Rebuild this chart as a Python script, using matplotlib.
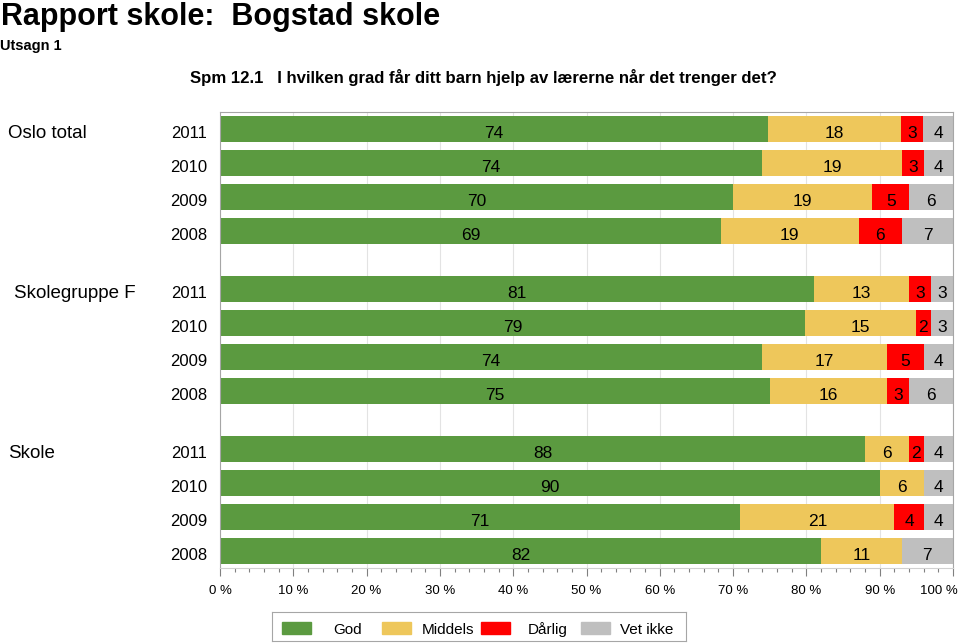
import numpy as np
import matplotlib
matplotlib.use("Agg")
import matplotlib.pyplot as plt
from matplotlib.patches import Rectangle
from matplotlib.transforms import blended_transform_factory, ScaledTranslation
from matplotlib.ticker import MultipleLocator

plt.rcParams['font.family'] = ['Liberation Sans', 'DejaVu Sans']

# data
groups = ["Oslo total", "Skolegruppe F", "Skole"]
years = ["2011", "2010", "2009", "2008"]
categories = ["God", "Middels", "Dårlig", "Vet ikke"]
colors = ["#5B9A40", "#EEC75B", "#FF0000", "#BFBFBF"]

god      = [74, 74, 70, 69,  81, 79, 74, 75,  88, 90, 71, 82]
middels  = [18, 19, 19, 19,  13, 15, 17, 16,   6,  6, 21, 11]
darlig   = [ 3,  3,  5,  6,   3,  2,  5,  3,   2,  0,  4,  0]
vet_ikke = [ 4,  4,  6,  7,   3,  3,  4,  6,   4,  4,  4,  7]

x_ticks = list(range(0, 101, 10))

W, H = 960, 643
fig = plt.figure(figsize=(W / 100, H / 100), dpi=100)

def fx(px):
    return px / W

def fy(py):
    return 1 - py / H

def shift(dx_pt, dy_pt):
    return ScaledTranslation(dx_pt / 72, dy_pt / 72, fig.dpi_scale_trans)

ax = fig.add_axes([fx(220), fy(568), fx(953) - fx(220), fy(112) - fy(568)])

vals = np.array([god, middels, darlig, vet_ikke], dtype=float)
pct = vals / vals.sum(axis=0) * 100

group_step = 4.706
ypos = np.array([g * group_step + i for g in range(len(groups)) for i in range(len(years))])

# text baselines sit a bit below the bar centre
base_off = -6.5  # points

left = np.zeros(len(ypos))
for k in range(len(categories)):
    ax.barh(ypos, pct[k], left=left, height=0.76, color=colors[k], zorder=2)
    for y, l, w, v in zip(ypos, left, pct[k], vals[k]):
        if v > 0:
            ax.annotate(f"{int(v)}", (l + w / 2, y), xytext=(0, base_off),
                        textcoords="offset points", ha="center", va="baseline",
                        fontsize=12.5, color="black", zorder=3)
    left += pct[k]

ax.set_xlim(0, 100)
ax.set_ylim(ypos[-1] + 0.5, -0.5)

ax.set_xticks(x_ticks)
ax.set_xticklabels([f"{t} %" for t in x_ticks])
ax.xaxis.set_minor_locator(MultipleLocator(2))
ax.tick_params(axis="x", which="major", length=6, width=0.8, color="#808080",
               labelsize=9.5, pad=6)
ax.tick_params(axis="x", which="minor", length=3, width=0.8, color="#808080")
ax.grid(axis="x", which="major", color="#E3E3E3", linewidth=0.8, zorder=0)

# keep "100 %" inside the figure like the reference
last = ax.get_xticklabels()[-1]
last.set_ha("right")
last.set_transform(last.get_transform() + shift(3.6, 0))

ax.set_yticks(ypos)
ax.set_yticklabels(years * len(groups))
ax.tick_params(axis="y", length=0, labelsize=12, pad=9)
for lab in ax.get_yticklabels():
    lab.set_va("baseline")
    lab.set_transform(lab.get_transform() + shift(0, base_off))

for s in ax.spines.values():
    s.set_color("#A6A6A6")
    s.set_linewidth(0.8)
ax.spines["bottom"].set_color("#D0D0D0")

# group labels
trans = blended_transform_factory(fig.transFigure, ax.transData)
group_x = [8, 14, 8]
for g, name in enumerate(groups):
    ax.text(fx(group_x[g]), ypos[g * len(years)], name,
            transform=trans + shift(0, base_off),
            ha="left", va="baseline", fontsize=13.5)

# titles
fig.text(fx(1), fy(25), "Rapport skole:  Bogstad skole", fontsize=22,
         fontweight="bold", va="baseline", ha="left")
fig.text(fx(0), fy(50), "Utsagn 1", fontsize=10.5, fontweight="bold",
         va="baseline", ha="left")
fig.text(fx(190), fy(83),
         "Spm 12.1   I hvilken grad får ditt barn hjelp av lærerne når det trenger det?",
         fontsize=12.1, fontweight="bold", va="baseline", ha="left")

# legend box
lax = fig.add_axes([fx(272), fy(641), fx(686) - fx(272), fy(612) - fy(641)])
lax.set_xlim(0, 414)
lax.set_ylim(0, 29)
lax.set_xticks([])
lax.set_yticks([])
for s in lax.spines.values():
    s.set_color("#A6A6A6")
    s.set_linewidth(0.8)
for i, (name, c) in enumerate(zip(categories, colors)):
    x0 = 10 + i * 99.7
    lax.add_patch(Rectangle((x0, 7), 29, 12, color=c))
    lax.text(x0 + 66, 7, name, ha="center", va="baseline", fontsize=11)

fig.savefig("out.png", dpi=100)
